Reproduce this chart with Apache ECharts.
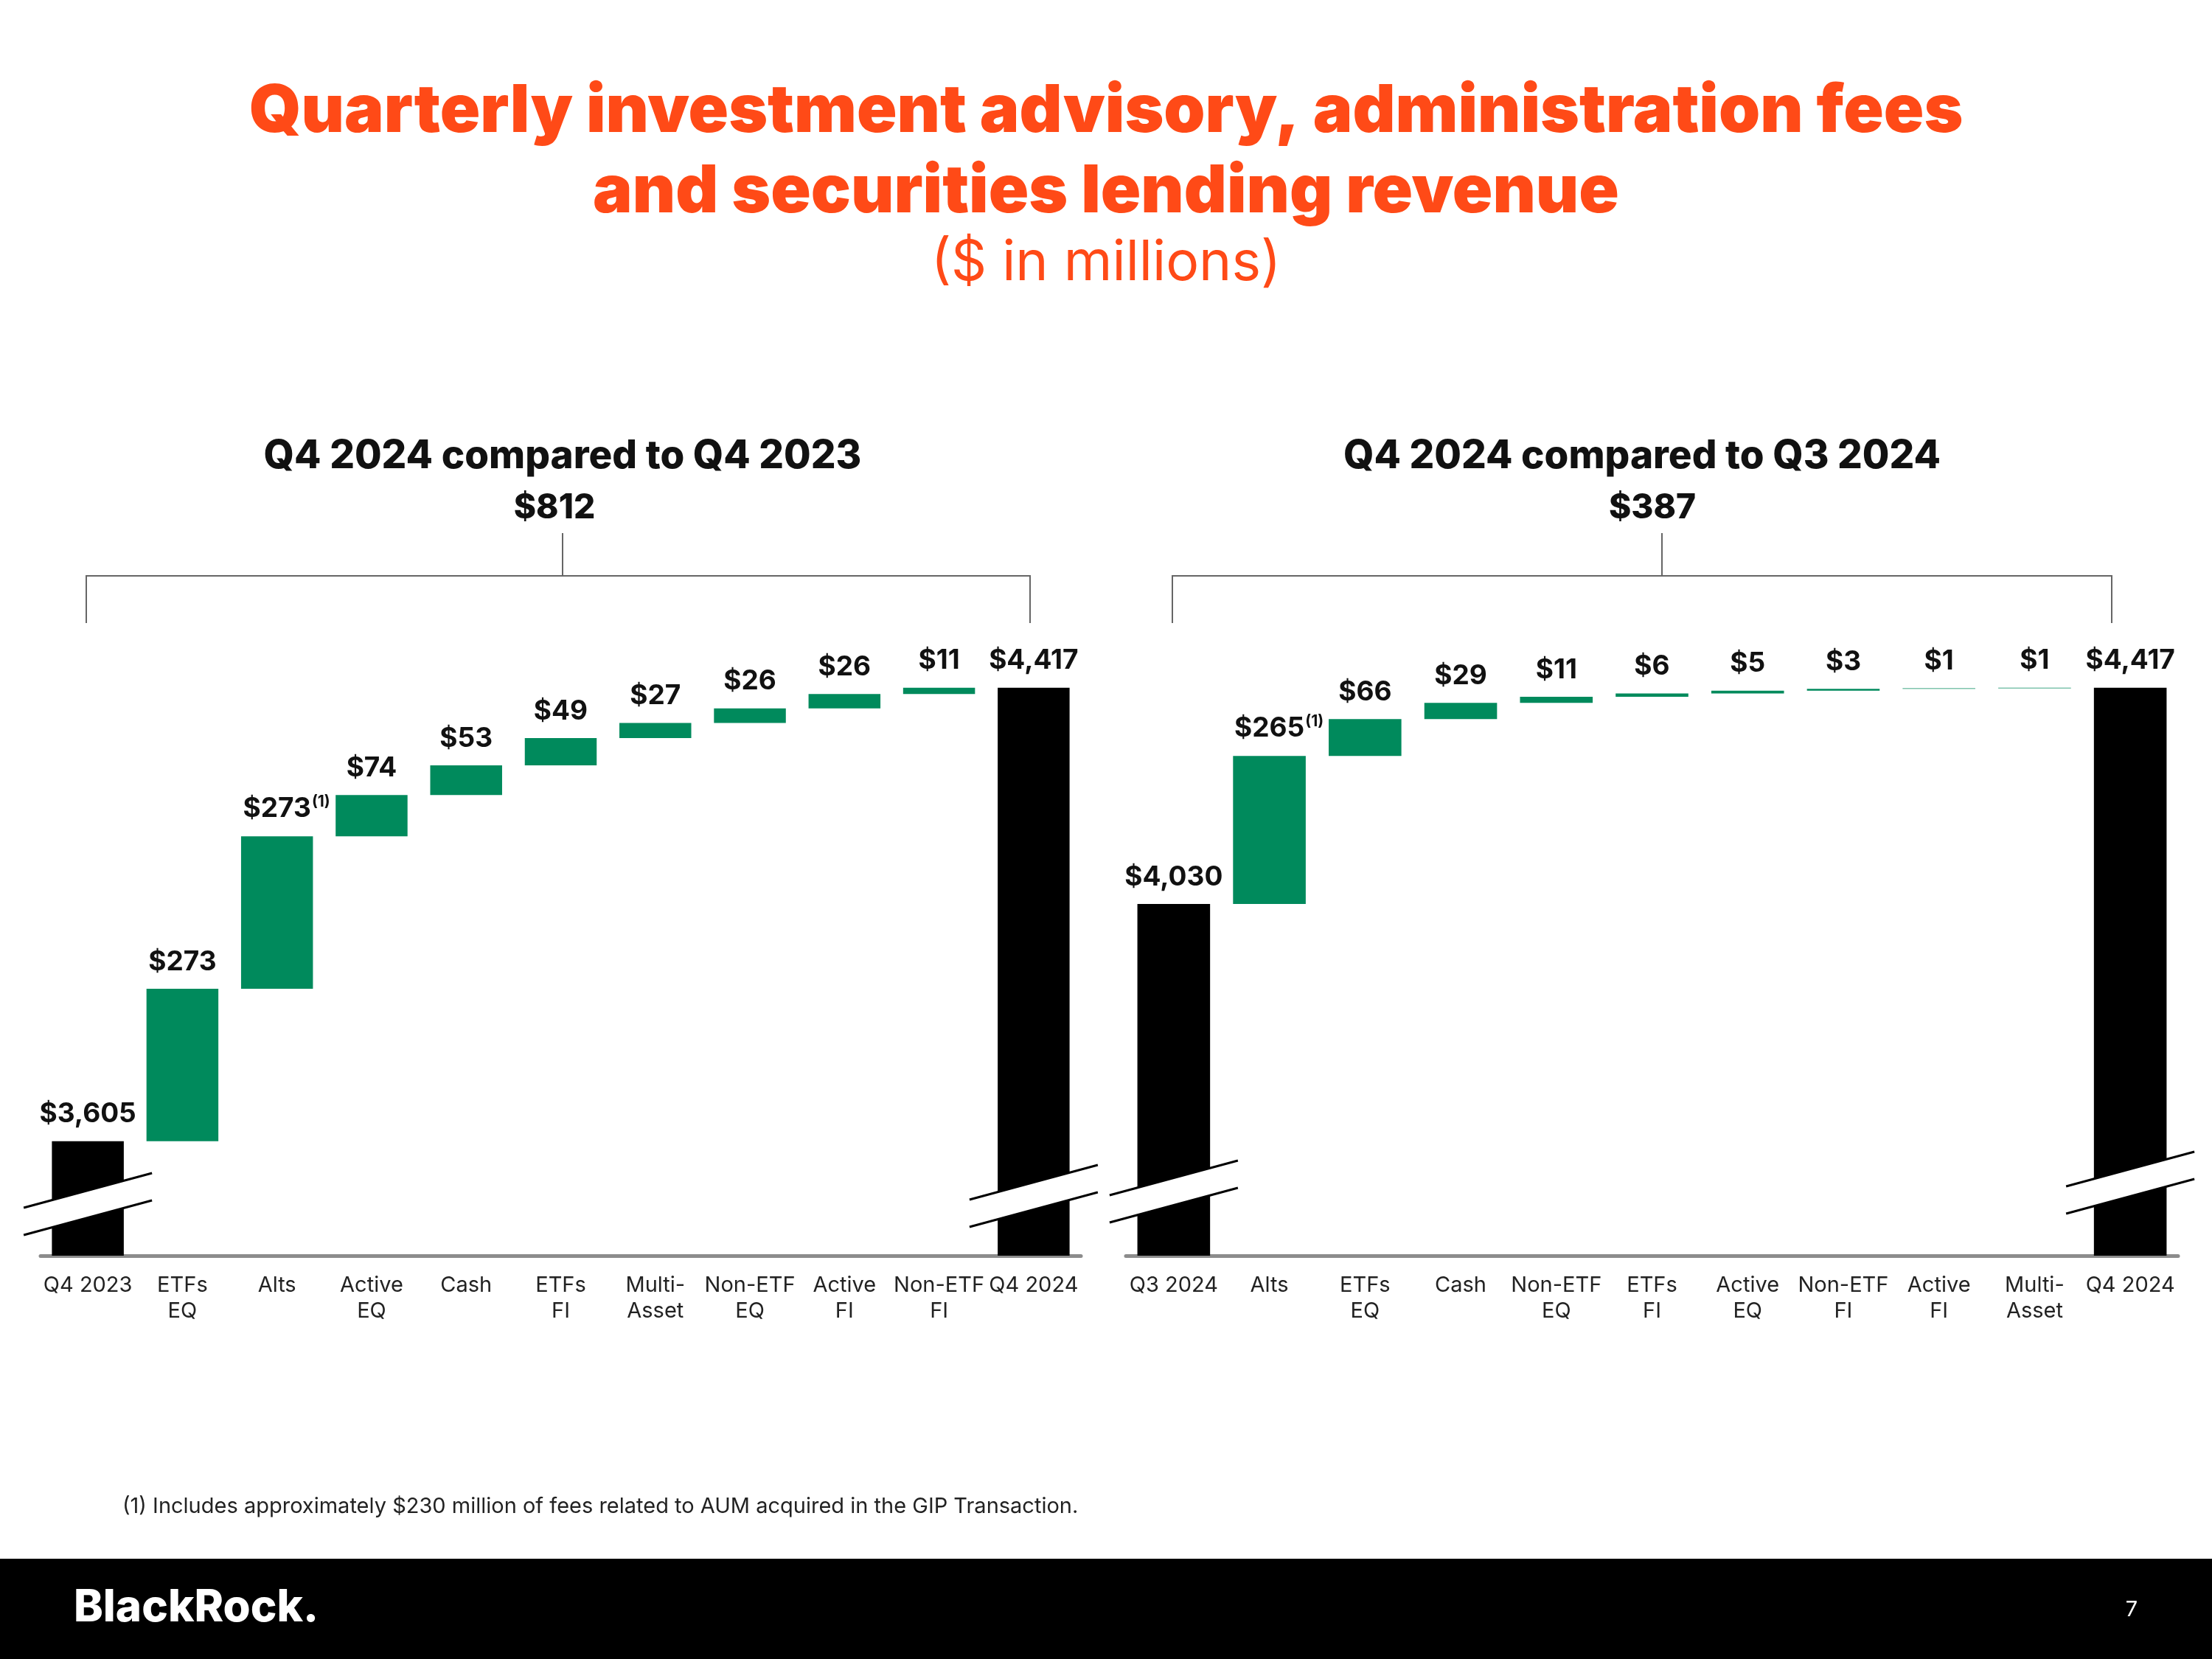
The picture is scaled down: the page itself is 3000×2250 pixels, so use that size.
<!DOCTYPE html>
<html><head><meta charset="utf-8">
<script src="https://cdn.jsdelivr.net/npm/echarts@6/dist/echarts.min.js"></script>
<style>html,body{margin:0;padding:0;background:#fff}#c{width:3000px;height:2250px}</style>
</head><body><div id="c"></div>
<script>
// ---- data ----
const leftCategories = ['Q4 2023','ETFs\nEQ','Alts','Active\nEQ','Cash','ETFs\nFI','Multi-\nAsset','Non-ETF\nEQ','Active\nFI','Non-ETF\nFI','Q4 2024'];
const leftValues = [3605, 273, 273, 74, 53, 49, 27, 26, 26, 11, 4417];
const leftTotals = [0, 10];
const leftFootnoteIndex = 2;
const leftTitle = 'Q4 2024 compared to Q4 2023';
const leftChange = 812;

const rightCategories = ['Q3 2024','Alts','ETFs\nEQ','Cash','Non-ETF\nEQ','ETFs\nFI','Active\nEQ','Non-ETF\nFI','Active\nFI','Multi-\nAsset','Q4 2024'];
const rightValues = [4030, 265, 66, 29, 11, 6, 5, 3, 1, 1, 4417];
const rightTotals = [0, 10];
const rightFootnoteIndex = 1;
const rightTitle = 'Q4 2024 compared to Q3 2024';
const rightChange = 387;

const axisMin = 3400, axisMax = 4500;
const footnoteText = '(1) Includes approximately $230 million of fees related to AUM acquired in the GIP Transaction.';

// ---- styles ----
const GREEN = '#008A5C', BLACK = '#000000', ORANGE = '#FF4A17';
const FONT = 'Inter, "Noto Sans", sans-serif';
const fmt = v => '$' + v.toLocaleString('en-US');

function build(values, totals, fnIdx) {
  const base = [], vis = [];
  let cum = 0;
  values.forEach((v, i) => {
    const isTotal = totals.includes(i);
    if (isTotal) { base.push(0); cum = v; }
    else { base.push(cum); cum += v; }
    const item = { value: v, itemStyle: { color: isTotal ? BLACK : GREEN } };
    if (i === fnIdx) {
      item.label = { formatter: '{v|' + fmt(v) + '}{s|(1)}', offset: [13, 0] };
    }
    vis.push(item);
  });
  return { base, vis };
}
const L = build(leftValues, leftTotals, leftFootnoteIndex);
const R = build(rightValues, rightTotals, rightFootnoteIndex);

const labelCfg = {
  show: true, position: 'top', distance: 18,
  fontFamily: FONT, fontWeight: 'bold', fontSize: 37, color: '#111',
  formatter: p => fmt(p.value),
  rich: {
    v: { fontFamily: FONT, fontWeight: 'bold', fontSize: 37, color: '#111' },
    s: { fontFamily: FONT, fontSize: 21, color: '#111', padding: [0, 0, 18, 1] }
  }
};

function xAxisCfg(cats, gi) {
  return {
    type: 'category', gridIndex: gi, data: cats,
    axisTick: { show: false },
    axisLine: { lineStyle: { color: '#8c8c8c', width: 5 } },
    axisLabel: { interval: 0, fontFamily: FONT, fontSize: 29, color: '#222', lineHeight: 35, margin: 23 }
  };
}
function yAxisCfg(gi) {
  return { type: 'value', gridIndex: gi, min: axisMin, max: axisMax, show: false, splitLine: { show: false } };
}

const chart = echarts.init(document.getElementById('c'), null, { renderer: 'canvas' });
chart.setOption({
  backgroundColor: '#ffffff',
  animation: false,
  grid: [
    { left: 55, width: 1411, top: 870, bottom: 547 },
    { left: 1527, width: 1427, top: 870, bottom: 547 }
  ],
  xAxis: [xAxisCfg(leftCategories, 0), xAxisCfg(rightCategories, 1)],
  yAxis: [yAxisCfg(0), yAxisCfg(1)],
  series: [
    { type: 'bar', xAxisIndex: 0, yAxisIndex: 0, stack: 'L', data: L.base, itemStyle: { color: 'transparent' }, barWidth: '76%', silent: true },
    { type: 'bar', xAxisIndex: 0, yAxisIndex: 0, stack: 'L', data: L.vis, barWidth: '76%', label: labelCfg },
    { type: 'bar', xAxisIndex: 1, yAxisIndex: 1, stack: 'R', data: R.base, itemStyle: { color: 'transparent' }, barWidth: '76%', silent: true },
    { type: 'bar', xAxisIndex: 1, yAxisIndex: 1, stack: 'R', data: R.vis, barWidth: '76%', label: labelCfg }
  ]
});

// ---- decorations ----
const g = [];
function text(t, x, y, size, weight, color, align) {
  g.push({ type: 'text', x, y, silent: true, z: 100,
    style: { text: t, fontFamily: FONT, fontSize: size, fontWeight: weight, fill: color, align: align || 'center', verticalAlign: 'middle' } });
}
function line(x1, y1, x2, y2, color, w) {
  g.push({ type: 'line', silent: true, z: 101, shape: { x1, y1, x2, y2 }, style: { stroke: color, lineWidth: w } });
}
// titles
text('Quarterly investment advisory, administration fees', 1500, 152, 90, 900, ORANGE);
text('and securities lending revenue', 1500, 261, 90, 900, ORANGE);
text('($ in millions)', 1500, 357, 75, 'normal', ORANGE);
// sub headers
text(leftTitle, 763, 619, 53, 800, '#111');
text(fmt(leftChange), 752, 689, 46, 800, '#111');
text(rightTitle, 2227, 619, 53, 800, '#111');
text(fmt(rightChange), 2241, 689, 46, 800, '#111');
// brackets
const BR = '#666';
line(117, 781, 1397, 781, BR, 2); line(117, 780, 117, 845, BR, 2); line(1397, 780, 1397, 845, BR, 2); line(763, 723, 763, 781, BR, 2);
line(1590, 781, 2864, 781, BR, 2); line(1590, 780, 1590, 845, BR, 2); line(2864, 780, 2864, 845, BR, 2); line(2254, 723, 2254, 781, BR, 2);
// axis breaks
function brk(gi, cat, up) {
  const cx = chart.convertToPixel({ xAxisIndex: gi }, cat);
  const by = chart.convertToPixel({ yAxisIndex: gi }, axisMin);
  const mid = by - up, hw = 87, dy = 23.5, gap = 18.5;
  g.push({ type: 'polygon', silent: true, z: 100, shape: { points: [
    [cx - hw, mid - gap + dy], [cx + hw, mid - gap - dy], [cx + hw, mid + gap - dy], [cx - hw, mid + gap + dy]] },
    style: { fill: '#fff' } });
  line(cx - hw, mid - gap + dy, cx + hw, mid - gap - dy, '#000', 3);
  line(cx - hw, mid + gap + dy, cx + hw, mid + gap - dy, '#000', 3);
}
brk(0, leftCategories[0], 70);
brk(0, leftCategories[10], 81);
brk(1, rightCategories[0], 87);
brk(1, rightCategories[10], 99);
// footnote
text(footnoteText, 166, 2043, 29, 'normal', '#222', 'left');
// footer
g.push({ type: 'rect', silent: true, z: 99, shape: { x: 0, y: 2114, width: 3000, height: 136 }, style: { fill: '#000' } });
text('BlackRock.', 100, 2181, 60, 800, '#fff', 'left');
text('7', 2891, 2183, 29, 'normal', '#fff', 'center');

chart.setOption({ graphic: g });
</script>
</body></html>
